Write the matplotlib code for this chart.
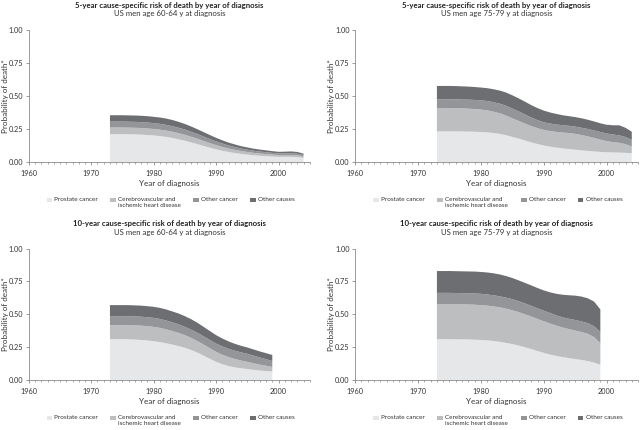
import numpy as np
import matplotlib
matplotlib.use("Agg")
import matplotlib.pyplot as plt
from matplotlib.patches import Rectangle
from matplotlib.ticker import MultipleLocator

plt.rcParams['font.family'] = ['Lato', 'DejaVu Sans']

# Years of diagnosis
years_5yr = list(range(1973, 2005))
years_10yr = list(range(1973, 2000))

# 5-year risk, men 60-64 (prostate, cerebrovascular/IHD, other cancer, other causes)
prostate_5_6064 = [.212, .212, .212, .211, .210, .208, .205, .202, .197, .191, .183, .173, .162, .149, .136, .122,
                   .109, .097, .086, .077, .069, .062, .057, .052, .048, .045, .042, .040, .040, .040, .038, .032]
cardio_5_6064 = [.050, .050, .050, .050, .050, .050, .050, .049, .049, .048, .047, .046, .045, .043, .041, .038,
                 .035, .032, .029, .026, .024, .022, .020, .018, .017, .016, .015, .014, .014, .014, .014, .012]
cancer_5_6064 = [.045, .045, .045, .045, .045, .045, .045, .044, .044, .043, .042, .041, .040, .038, .036, .034,
                 .031, .028, .026, .023, .021, .019, .017, .016, .015, .014, .013, .012, .012, .013, .012, .010]
other_5_6064 = [.048, .048, .048, .048, .048, .048, .048, .048, .048, .048, .047, .045, .042, .040, .036, .033,
                .030, .027, .024, .022, .020, .018, .017, .016, .015, .014, .013, .012, .013, .014, .013, .010]

# 5-year risk, men 75-79
prostate_5_7579 = [.233, .233, .233, .233, .232, .231, .230, .228, .225, .220, .214, .204, .191, .178, .164, .150,
                   .137, .126, .117, .110, .104, .099, .094, .089, .085, .081, .077, .075, .073, .072, .070, .068]
cardio_5_7579 = [.177, .177, .177, .176, .175, .174, .172, .170, .167, .162, .156, .149, .141, .134, .128, .123,
                 .120, .118, .118, .119, .120, .121, .120, .116, .110, .102, .093, .084, .078, .074, .066, .050]
cancer_5_7579 = [.066, .066, .066, .066, .067, .068, .069, .070, .071, .072, .073, .074, .074, .072, .069, .065,
                 .061, .058, .057, .056, .055, .055, .055, .055, .056, .057, .058, .058, .058, .057, .054, .050]
other_5_7579 = [.101, .101, .101, .101, .100, .099, .098, .097, .097, .098, .099, .100, .100, .099, .097, .094,
                .091, .088, .084, .080, .076, .073, .072, .072, .070, .068, .066, .066, .070, .076, .070, .062]

# 10-year risk, men 60-64
prostate_10_6064 = [.311, .311, .311, .310, .308, .305, .301, .296, .289, .280, .270, .259, .246, .229,
                    .209, .186, .162, .139, .121, .107, .097, .090, .084, .078, .073, .069, .065]
cardio_10_6064 = [.107, .107, .107, .108, .108, .109, .109, .109, .108, .106, .103, .100, .096, .092,
                  .088, .084, .080, .076, .072, .068, .064, .059, .055, .050, .045, .040, .035]
cancer_10_6064 = [.068, .068, .068, .068, .068, .068, .068, .068, .068, .067, .066, .065, .063, .063,
                  .063, .063, .063, .063, .063, .063, .062, .062, .061, .058, .054, .050, .045]
other_10_6064 = [.084, .084, .084, .084, .084, .084, .084, .084, .084, .084, .083, .082, .081, .079,
                 .076, .072, .068, .064, .060, .056, .053, .050, .048, .047, .046, .046, .046]

# 10-year risk, men 75-79
prostate_10_7579 = [.311, .311, .311, .310, .310, .309, .307, .305, .302, .297, .291, .283, .274, .263,
                    .250, .236, .221, .207, .194, .184, .175, .167, .160, .153, .145, .133, .117]
cardio_10_7579 = [.267, .267, .267, .267, .266, .266, .266, .265, .264, .264, .262, .260, .257, .254,
                  .250, .247, .244, .240, .236, .230, .225, .221, .217, .213, .207, .194, .163]
cancer_10_7579 = [.085, .085, .085, .085, .085, .085, .086, .086, .085, .084, .084, .084, .084, .083,
                  .083, .082, .081, .081, .080, .078, .077, .078, .080, .080, .081, .082, .087]
other_10_7579 = [.166, .166, .166, .166, .166, .166, .166, .166, .167, .167, .166, .164, .161, .158,
                 .156, .155, .154, .154, .157, .164, .172, .179, .185, .189, .189, .188, .170]

cause_labels = ['Prostate cancer', 'Cerebrovascular and\nischemic heart disease', 'Other cancer', 'Other causes']
cause_colors = ['#e6e7e8', '#bcbec0', '#939598', '#6d6e71']

panels = [
    ('5-year cause-specific risk of death by year of diagnosis', 'US men age 60-64 y at diagnosis',
     years_5yr, [prostate_5_6064, cardio_5_6064, cancer_5_6064, other_5_6064], [0.045, 0.623, 0.439, 0.307]),
    ('5-year cause-specific risk of death by year of diagnosis', 'US men age 75-79 y at diagnosis',
     years_5yr, [prostate_5_7579, cardio_5_7579, cancer_5_7579, other_5_7579], [0.555, 0.623, 0.442, 0.307]),
    ('10-year cause-specific risk of death by year of diagnosis', 'US men age 60-64 y at diagnosis',
     years_10yr, [prostate_10_6064, cardio_10_6064, cancer_10_6064, other_10_6064], [0.045, 0.116, 0.439, 0.306]),
    ('10-year cause-specific risk of death by year of diagnosis', 'US men age 75-79 y at diagnosis',
     years_10yr, [prostate_10_7579, cardio_10_7579, cancer_10_7579, other_10_7579], [0.555, 0.116, 0.442, 0.306]),
]

# legend layout in axes fractions (handle left edge, text left edge)
legend_handle_x = [0.063, 0.288, 0.585, 0.786]
legend_text_x = [0.090, 0.317, 0.614, 0.815]
legend_y = -0.29

fig = plt.figure(figsize=(6.4, 4.3), dpi=100)

for title, subtitle, years, layers, rect in panels:
    ax = fig.add_axes(rect)
    ax.stackplot(years, *layers, colors=cause_colors, linewidth=0)

    ax.set_xlim(1960, 2005)
    ax.set_ylim(0, 1)
    ax.set_xticks([1960, 1970, 1980, 1990, 2000])
    ax.set_yticks([0, 0.25, 0.5, 0.75, 1.0])
    ax.set_yticklabels(['0.00', '0.25', '0.50', '0.75', '1.00'])
    ax.xaxis.set_minor_locator(MultipleLocator(1))

    for side in ['top', 'right']:
        ax.spines[side].set_visible(False)
    for side in ['left', 'bottom']:
        ax.spines[side].set_color('#8a8a8a')
        ax.spines[side].set_linewidth(0.6)
    ax.tick_params(which='major', width=0.6, color='#8a8a8a', labelsize=5.3, labelcolor='#333333')
    ax.tick_params(axis='x', which='major', length=2.5, pad=3)
    ax.tick_params(axis='y', which='major', length=2, pad=2)
    ax.tick_params(which='minor', length=1.5, width=0.5, color='#8a8a8a')

    ax.set_xlabel('Year of diagnosis', fontsize=5.8, color='#333333')
    ax.set_ylabel('Probability of death*', fontsize=5.8, color='#333333')
    ax.xaxis.set_label_coords(0.5, -0.135)
    ax.yaxis.set_label_coords(-0.072, 0.5)

    ax.text(0.5, 1.19, title, transform=ax.transAxes, ha='center', va='center',
            fontsize=5.6, fontweight='bold', color='#222222')
    ax.text(0.5, 1.125, subtitle, transform=ax.transAxes, ha='center', va='center',
            fontsize=5.6, color='#333333')

    # hand-placed legend so every label lines up on its first line
    for hx, tx, label, color in zip(legend_handle_x, legend_text_x, cause_labels, cause_colors):
        ax.add_patch(Rectangle((hx, legend_y - 0.015), 0.021, 0.03, transform=ax.transAxes,
                               facecolor=color, edgecolor='none', clip_on=False))
        ax.text(tx, legend_y + 0.022, label, transform=ax.transAxes, ha='left', va='top',
                fontsize=4.6, color='#333333', linespacing=1.25)

fig.savefig('out.png', dpi=100)
